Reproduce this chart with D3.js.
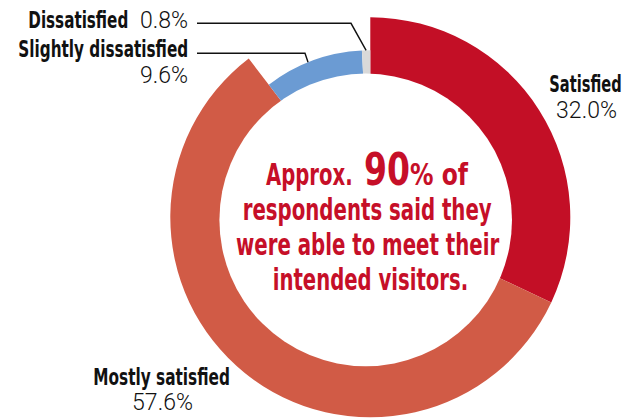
<!DOCTYPE html>
<html>
<head>
<meta charset="utf-8">
<script src="https://cdn.jsdelivr.net/npm/d3@7"></script>
<style>
  html, body { margin: 0; padding: 0; background: #fff; }
  svg { display: block; }
  .lbl { font-family: "Liberation Sans Narrow", "DejaVu Sans Condensed", "Liberation Sans", sans-serif; font-weight: bold; fill: #111; }
  .pct { font-family: Roboto, "Liberation Sans", sans-serif; font-weight: 300; fill: #111; }
  .msg { font-family: "Liberation Sans Narrow", "DejaVu Sans Condensed", "Liberation Sans", sans-serif; font-weight: bold; fill: #C60F28; }
</style>
</head>
<body>
<svg id="chart" width="627" height="419"></svg>
<script>
// Survey answers (percent of respondents)
const categories = ["Satisfied", "Mostly satisfied", "Slightly dissatisfied", "Dissatisfied"];
const values = [32.0, 57.6, 9.6, 0.8];
const valueLabels = ["32.0%", "57.6%", "9.6%", "0.8%"];

const colors = {
  "Satisfied": "#C30F26",
  "Mostly satisfied": "#D15B46",
  "Slightly dissatisfied": "#6B9BD3",
  "Dissatisfied": "#D9D9D9"
};
// the two dissatisfied slices sit on a thinner ring
const outerR = {
  "Satisfied": 200,
  "Mostly satisfied": 200,
  "Slightly dissatisfied": 167,
  "Dissatisfied": 167
};

const svg = d3.select("#chart");
const cx = 370.3, cy = 217.3;

const data = categories.map((c, i) => ({ category: c, value: values[i], label: valueLabels[i] }));
const pie = d3.pie().sort(null).value(d => d.value);
const arcs = pie(data);

const arc = d3.arc()
  .innerRadius(120)
  .outerRadius(d => outerR[d.data.category]);

const g = svg.append("g").attr("transform", `translate(${cx},${cy})`);
g.selectAll("path.slice")
  .data(arcs)
  .join("path")
  .attr("class", "slice")
  .attr("d", arc)
  .attr("fill", d => colors[d.data.category]);

// white hole of the ring
svg.append("circle")
  .attr("cx", 365.7).attr("cy", 219.9).attr("r", 146.3)
  .attr("fill", "#fff");

// point on a slice's outer edge, at a fraction of its sweep
function edgePoint(a, frac) {
  const ang = a.startAngle + frac * (a.endAngle - a.startAngle);
  const r = outerR[a.data.category];
  return [cx + r * Math.sin(ang), cy - r * Math.cos(ang)];
}

// leader lines for the two small slices
const leaders = [
  { cat: "Dissatisfied", y: 23.3, elbowX: 351, frac: 0.5 },
  { cat: "Slightly dissatisfied", y: 53.3, elbowX: 305, frac: 0.45 }
];
leaders.forEach(l => {
  const a = arcs.find(d => d.data.category === l.cat);
  const p = edgePoint(a, l.frac);
  svg.append("polyline")
    .attr("points", `197,${l.y} ${l.elbowX},${l.y} ${p[0]},${p[1]}`)
    .attr("fill", "none")
    .attr("stroke", "#111")
    .attr("stroke-width", 1.4);
});

const byCat = Object.fromEntries(data.map(d => [d.category, d]));

// place a text starting at x (baseline y), squeezed horizontally to width w
function fitText(parent, cls, str, x, y, size, w) {
  const t = parent.append("text").attr("class", cls)
    .attr("font-size", size).text(str);
  const len = t.node().getComputedTextLength();
  t.attr("transform", `translate(${x},${y}) scale(${w / len},1)`);
  return t;
}

// "Dissatisfied 0.8%" on one line
fitText(svg, "lbl", byCat["Dissatisfied"].category, 28.3, 28.3, 22.5, 100);
svg.append("text").attr("class", "pct").attr("x", 188).attr("y", 28.3)
  .attr("text-anchor", "end").attr("font-size", 23)
  .text(byCat["Dissatisfied"].label);

// "Slightly dissatisfied / 9.6%"
fitText(svg, "lbl", byCat["Slightly dissatisfied"].category, 18.3, 56.7, 22.5, 170);
svg.append("text").attr("class", "pct").attr("x", 188).attr("y", 83.3)
  .attr("text-anchor", "end").attr("font-size", 23)
  .text(byCat["Slightly dissatisfied"].label);

// "Satisfied / 32.0%"
fitText(svg, "lbl", byCat["Satisfied"].category, 549.3, 91.7, 22.5, 72.4);
svg.append("text").attr("class", "pct").attr("x", 586.5).attr("y", 118.3)
  .attr("text-anchor", "middle").attr("font-size", 23)
  .text(byCat["Satisfied"].label);

// "Mostly satisfied / 57.6%"
fitText(svg, "lbl", byCat["Mostly satisfied"].category, 93.3, 385, 23, 136.7);
svg.append("text").attr("class", "pct").attr("x", 162.5).attr("y", 410)
  .attr("text-anchor", "middle").attr("font-size", 23)
  .text(byCat["Mostly satisfied"].label);

// message in the middle of the ring
const msg = svg.append("g");
fitText(msg, "msg", "Approx.", 266, 185, 31, 86.7);
fitText(msg, "msg", "90", 364, 185, 45, 46);
fitText(msg, "msg", "% of", 410, 185, 31, 58);
const lines = [
  { t: "respondents said they", x: 242.7, w: 249, y: 220 },
  { t: "were able to meet their", x: 236, w: 263.3, y: 255 },
  { t: "intended visitors.", x: 272.7, w: 195.6, y: 290 }
];
lines.forEach(l => fitText(msg, "msg", l.t, l.x, l.y, 31, l.w));
</script>
</body>
</html>
